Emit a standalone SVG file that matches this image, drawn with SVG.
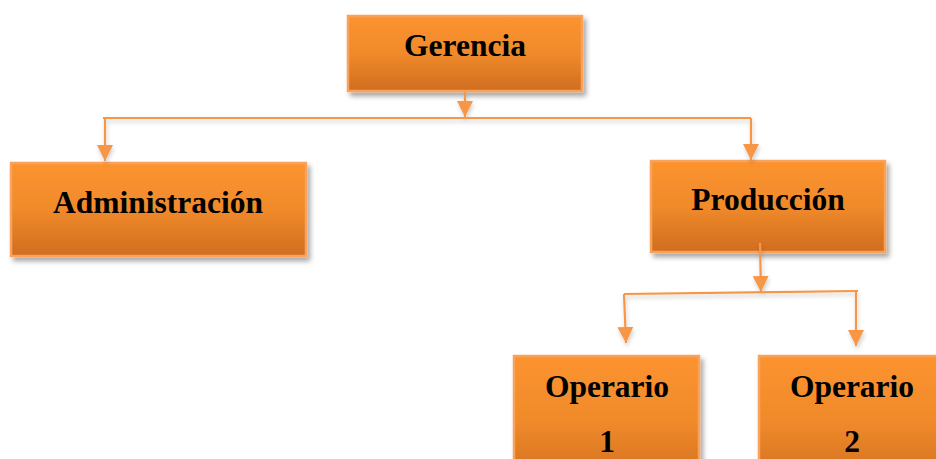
<svg xmlns="http://www.w3.org/2000/svg" width="936" height="459" viewBox="0 0 936 459">
<defs>
<linearGradient id="g" x1="0" y1="0" x2="0" y2="1">
<stop offset="0" stop-color="#FC932F"/>
<stop offset="0.5" stop-color="#F08A2B"/>
<stop offset="1" stop-color="#D06D1F"/>
</linearGradient>
<filter id="sh" x="-10%" y="-10%" width="130%" height="140%">
<feDropShadow dx="3" dy="4" stdDeviation="2.5" flood-color="#000" flood-opacity="0.35"/>
</filter>
<filter id="lsh" x="-10%" y="-50%" width="120%" height="300%">
<feDropShadow dx="1" dy="3" stdDeviation="2" flood-color="#000" flood-opacity="0.2"/>
</filter>
<marker id="ah" markerUnits="userSpaceOnUse" markerWidth="18" markerHeight="18" viewBox="0 0 18 18" refX="16" refY="9" orient="auto">
<path d="M0,1 L16,9 L0,17 Z" fill="#F79646"/>
</marker>
</defs>
<style>
.box{fill:url(#g);stroke:#F9A25C;stroke-width:2.5;filter:url(#sh)}
.lbl{font-family:"Liberation Serif","Times New Roman",serif;font-weight:bold;font-size:31.5px;fill:#000;text-anchor:middle}
.ln{fill:none;stroke:#F79646;stroke-width:2.2}
</style>
<g id="gerencia">
<rect class="box" x="348" y="16" width="234" height="75"/>
<text class="lbl" x="465" y="56">Gerencia</text>
</g>
<g id="administracion">
<rect class="box" x="11" y="163" width="295" height="93"/>
<text class="lbl" x="158" y="213">Administración</text>
</g>
<g id="produccion">
<rect class="box" x="651" y="161" width="234" height="91"/>
<text class="lbl" x="768" y="210">Producción</text>
</g>
<g id="operario1">
<rect class="box" x="514" y="356" width="185" height="130"/>
<text class="lbl" x="607" y="397">Operario</text>
<text class="lbl" x="607" y="452">1</text>
</g>
<g id="operario2">
<rect class="box" x="759" y="356" width="190" height="130"/>
<text class="lbl" x="852" y="397">Operario</text>
<text class="lbl" x="852" y="452">2</text>
</g>
<g id="connectors" filter="url(#lsh)">
<path class="ln" d="M465,92 L465,117" marker-end="url(#ah)"/>
<path class="ln" d="M103,118 L751,118"/>
<path class="ln" d="M105,118 L105,161" marker-end="url(#ah)"/>
<path class="ln" d="M751,118 L751,160" marker-end="url(#ah)"/>
<path class="ln" d="M760,243 L761,292" marker-end="url(#ah)"/>
<path class="ln" d="M624,294 L858,291"/>
<path class="ln" d="M624,294 L626,343" marker-end="url(#ah)"/>
<path class="ln" d="M856,291 L856,346" marker-end="url(#ah)"/>
</g>
</svg>
